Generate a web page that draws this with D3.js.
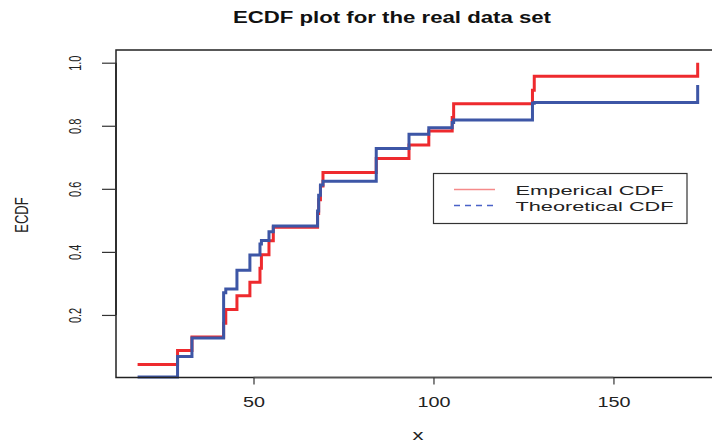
<!DOCTYPE html>
<html>
<head>
<meta charset="utf-8">
<script src="https://cdn.jsdelivr.net/npm/d3@7"></script>
<style>
  html, body { margin: 0; padding: 0; background: #fff; }
  svg { display: block; font-family: "Liberation Sans", Arial, sans-serif; }
</style>
</head>
<body>
<svg id="chart" width="712" height="447"></svg>
<script>
// ---- data ----
const xValues = [17.8, 28.9, 32.9, 41.7, 42.3, 45.4, 49.0, 51.8, 52.2, 54.3, 55.5,
                 67.8, 68.1, 68.6, 69.3, 84.1, 93.2, 98.7, 105.2, 105.6, 127.5, 128.0, 173.4];
const empiricalCDF = [0.043, 0.087, 0.130, 0.174, 0.217, 0.261, 0.304, 0.348, 0.391, 0.435, 0.478,
                      0.522, 0.565, 0.609, 0.652, 0.696, 0.739, 0.783, 0.826, 0.870, 0.913, 0.957, 1.000];
const theoreticalCDF = [0.003, 0.068, 0.127, 0.270, 0.282, 0.342, 0.390, 0.425, 0.436, 0.464, 0.482,
                        0.530, 0.580, 0.612, 0.624, 0.728, 0.773, 0.794, 0.810, 0.818, 0.871, 0.874, 0.929];
const xTicks = [50, 100, 150];
const yTicks = [0.2, 0.4, 0.6, 0.8, 1.0];
const legendLabels = ["Emperical CDF", "Theoretical CDF"];
const titleText = "ECDF plot for the real data set";

// ---- layout ----
const svg = d3.select("#chart");
const x = d3.scaleLinear().domain([11.8, 179.6]).range([116, 720]);
const y = d3.scaleLinear().domain([0, 1]).range([378, 62.7]);
const boxTop = y(1.04), boxBottom = 377.5, boxLeft = 116;

const red = "#ee2a2e", blue = "#3d56a6";

// title
svg.append("text")
  .attr("x", 392).attr("y", 23)
  .attr("text-anchor", "middle")
  .attr("font-size", 16).attr("font-weight", "bold")
  .attr("textLength", 318).attr("lengthAdjust", "spacingAndGlyphs")
  .attr("fill", "#111")
  .text(titleText);

// data lines (step "s" style)
const line = d3.line().x(d => x(d[0])).y(d => y(d[1])).curve(d3.curveStepAfter);
svg.append("path")
  .datum(xValues.map((v, i) => [v, empiricalCDF[i]]))
  .attr("d", line).attr("fill", "none")
  .attr("stroke", red).attr("stroke-width", 3);
svg.append("path")
  .datum(xValues.map((v, i) => [v, theoreticalCDF[i]]))
  .attr("d", line).attr("fill", "none")
  .attr("stroke", blue).attr("stroke-width", 3);

// box (left, top, bottom)
svg.append("path")
  .attr("d", `M${720},${boxTop}H${boxLeft}V${boxBottom}H720`)
  .attr("fill", "none").attr("stroke", "#222").attr("stroke-width", 1.5);

// x axis
const xAxis = d3.axisBottom(x).tickValues(xTicks).tickSize(7).tickSizeOuter(0).tickPadding(0);
const gx = svg.append("g").attr("transform", `translate(0,${boxBottom})`).call(xAxis);
gx.select(".domain").attr("d", `M${x(xTicks[0])},0H${x(xTicks[xTicks.length-1])}`)
  .attr("stroke", "#555").attr("stroke-width", 1.5);
gx.selectAll(".tick line").attr("stroke", "#333").attr("stroke-width", 1.2);
gx.selectAll(".tick text").attr("y", 29).attr("dy", 0)
  .attr("font-size", 14).attr("fill", "#222")
  .attr("font-family", "Liberation Sans, Arial, sans-serif")
  .each(function(d) {
    const s = String(d);
    d3.select(this).attr("textLength", s.length * 11).attr("lengthAdjust", "spacingAndGlyphs");
  });

// y axis
const yAxis = d3.axisLeft(y).tickValues(yTicks).tickSize(14).tickSizeOuter(0).tickFormat(d3.format(".1f"));
const gy = svg.append("g").attr("transform", `translate(${boxLeft},0)`).call(yAxis);
gy.select(".domain").attr("d", `M0,${y(0.2)}V${y(1.0)}`).attr("stroke", "#222").attr("stroke-width", 1.5);
gy.selectAll(".tick line").attr("stroke", "#333").attr("stroke-width", 1.2);
gy.selectAll(".tick text").remove();
gy.selectAll(".tick").append("text")
  .attr("transform", "translate(-41,0) scale(1.5,1) rotate(-90)")
  .attr("text-anchor", "middle").attr("dy", "0.36em")
  .attr("font-size", 11).attr("fill", "#222")
  .attr("font-family", "Liberation Sans, Arial, sans-serif")
  .text(d => d3.format(".1f")(d));

// axis titles
svg.append("text")
  .attr("x", 418).attr("y", 440).attr("text-anchor", "middle")
  .attr("font-size", 14).attr("fill", "#222")
  .attr("textLength", 11).attr("lengthAdjust", "spacingAndGlyphs")
  .text("x");
svg.append("text")
  .attr("transform", `translate(22,215) scale(1.35,1) rotate(-90)`)
  .attr("text-anchor", "middle").attr("dy", "0.36em")
  .attr("font-size", 13).attr("fill", "#222")
  .text("ECDF");

// legend
const lg = svg.append("g");
lg.append("rect").attr("x", 433.5).attr("y", 173.5).attr("width", 253.5).attr("height", 50)
  .attr("fill", "#fff").attr("stroke", "#333").attr("stroke-width", 1.2);
const legendColors = ["#f58a8a", "#4a62c8"];
const legendDash = [null, "6,5"];
const legendLen = [148, 158];
legendLabels.forEach((lab, i) => {
  const yy = 189.5 + i * 16;
  lg.append("line").attr("x1", 454).attr("x2", i === 0 ? 495 : 493)
    .attr("y1", yy).attr("y2", yy)
    .attr("stroke", legendColors[i]).attr("stroke-width", 1.5)
    .attr("stroke-dasharray", legendDash[i]);
  lg.append("text").attr("x", 515.5).attr("y", yy + 5)
    .attr("font-size", 13.5).attr("fill", "#222")
    .attr("textLength", legendLen[i]).attr("lengthAdjust", "spacingAndGlyphs")
    .text(lab);
});
</script>
</body>
</html>
